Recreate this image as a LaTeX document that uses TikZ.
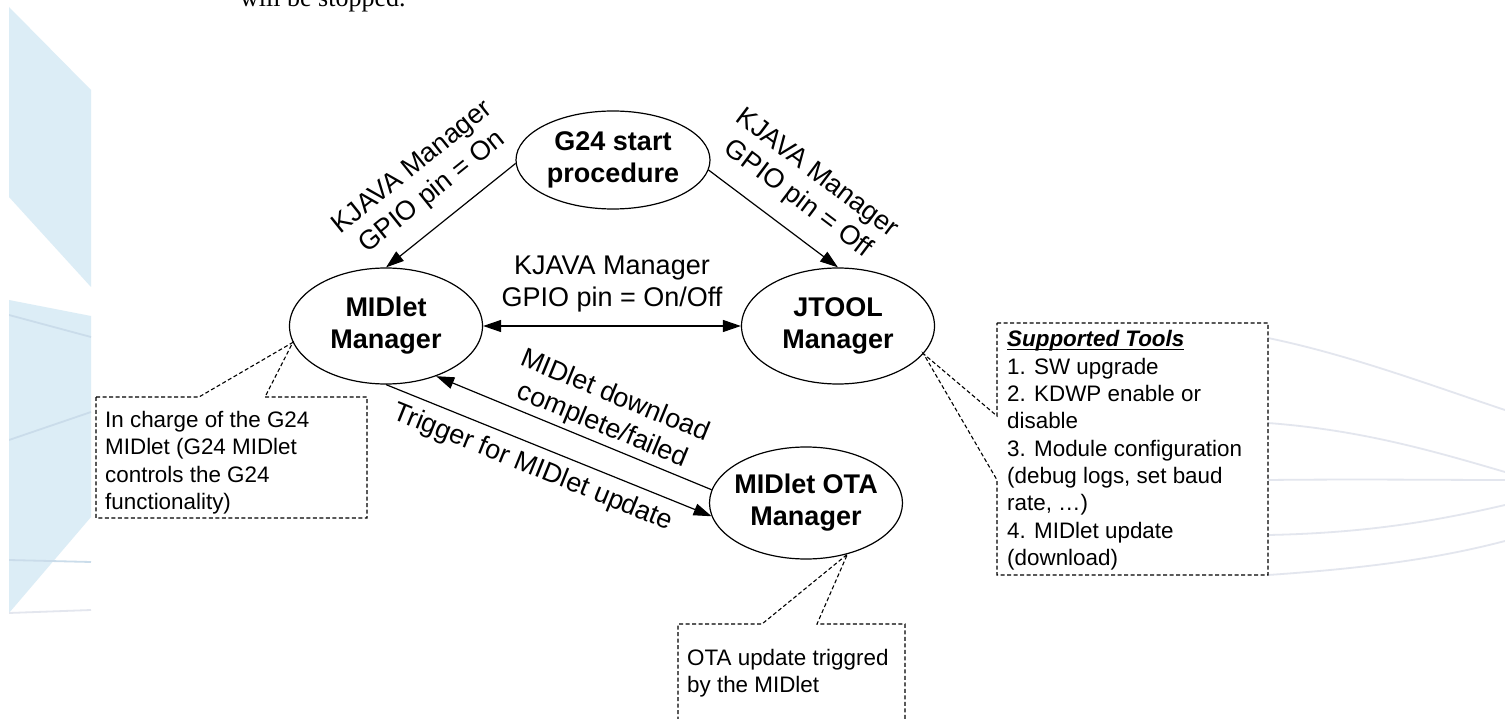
\documentclass[tikz,border=0pt]{standalone}
\usepackage{fontspec}
\setmainfont{Liberation Sans}
\newfontfamily\timesface{Liberation Serif}
\usetikzlibrary{arrows.meta,shapes.geometric}
\definecolor{bgblue}{HTML}{DCEDF6}
\definecolor{bgline}{HTML}{E3E6EE}
\definecolor{bglinedark}{HTML}{CADCEA}
\newcommand\myul[1]{\setbox0\hbox{#1}\rlap{\hbox to\wd0{\leaders\hrule height -1.6pt depth 3pt\hfill}}\box0}
\begin{document}
\begin{tikzpicture}[x=1pt,y=-1pt,
  state/.style={ellipse,draw,line width=1.2pt,inner sep=0pt},
  lbl/.style={align=center,inner sep=0pt,font=\fontsize{27}{32}\selectfont\bfseries},
  conn/.style={line width=1.2pt,-{Triangle[length=18pt,width=12pt]}},
  elabel/.style={sloped,align=center,inner sep=0pt,font=\fontsize{27}{32}\selectfont},
  callout/.style={draw,dash pattern=on 4pt off 2.5pt,line width=1.1pt},
  ctext/.style={align=left,inner sep=0pt,anchor=north west,font=\fontsize{22.4}{27.3}\selectfont},
  bgl/.style={line width=1.8pt,bgline},
  bgld/.style={line width=1.8pt,bglinedark}
]
\useasboundingbox (0,0) rectangle (1505,719);
\fill[white] (0,0) rectangle (1505,719);

% background slide pieces
\begin{scope}
\clip (9,0) rectangle (91,719);
\fill[bgblue] (9,7) -- (91,90) -- (91,287) -- (9,197) -- cycle;
\fill[bgblue] (91,316) -- (91,517) -- (9,613) -- (9,300) -- cycle;
\draw[bgld] (9,315) -- (91,337);
\draw[bgld] (9,440) -- (91,412);
\draw[bgld] (9,560) -- (91,562);
\draw[bgl] (9,613) -- (91,610);
\end{scope}
\begin{scope}
\clip (1268,0) rectangle (1505,719);
\draw[bgl] (1268,338) .. controls (1350,355) and (1430,385) .. (1505,410);
\draw[bgl] (1268,423) .. controls (1360,430) and (1430,450) .. (1505,472);
\draw[bgl] (1268,480) .. controls (1360,479) and (1440,480) .. (1505,480);
\draw[bgl] (1268,535) .. controls (1370,533) and (1440,520) .. (1505,505);
\draw[bgl] (1268,575) .. controls (1370,568) and (1440,558) .. (1505,541);
\end{scope}

\node[anchor=base west,inner sep=0pt,font=\timesface\fontsize{26}{30}\selectfont] (toptext) at (240,7) {will be stopped.};

% states
\node[state,minimum width=194pt,minimum height=98pt,label={[lbl]center:{G24 start\\procedure}}] (g24) at (613,160) {};
\node[state,minimum width=193pt,minimum height=116pt,label={[lbl]center:{MIDlet\\Manager}}] (mid) at (386,326) {};
\node[state,minimum width=193pt,minimum height=116pt,label={[lbl]center:{JTOOL\\Manager}}] (jt) at (838,326) {};
\node[state,minimum width=193pt,minimum height=112pt,label={[lbl]center:{MIDlet OTA\\Manager}}] (ota) at (806,503) {};

% connectors
\draw[conn] (g24.182) -- node[elabel,pos=0.5,above=16pt]{KJAVA Manager\\GPIO pin = On} (mid.north);
\draw[conn] (g24.-6) -- node[elabel,pos=0.55,above=17pt]{KJAVA Manager\\GPIO pin = Off} (jt.north);
\draw[line width=1.2pt,{Triangle[length=18pt,width=12pt]}-{Triangle[length=18pt,width=12pt]}] (mid.east) -- node[elabel,above=13pt]{KJAVA Manager\\GPIO pin = On/Off} (jt.west);
\draw[conn] (ota.172) -- node[elabel,pos=0.42,above=4pt]{MIDlet download\\complete/failed} (mid.-45);
\draw[conn] (mid.south) -- node[elabel,pos=0.476,below=9pt]{Trigger for MIDlet update} (ota.188);

% callouts
\draw[callout] (96,397) -- (199,397) -- (mid.190) -- (265,397) -- (367,397) -- (367,518) -- (96,518) -- cycle;
\node[ctext] (c1) at (105,411) {In charge of the G24\\MIDlet (G24 MIDlet\\controls the G24\\functionality)};

\draw[callout] (997,323) -- (1268,323) -- (1268,575) -- (997,575) -- (997,480) -- (jt.-18) -- (997,416) -- cycle;
\node[ctext] (c2) at (1007,330.5) {\textbf{\textit{\myul{Supported Tools}}}\\1. SW upgrade\\2. KDWP enable or\\disable\\3. Module configuration\\(debug logs, set baud\\rate, …)\\4. MIDlet update\\(download)};

\draw[callout] (678,740) -- (678,624) -- (762,624) -- (ota.-51) -- (817,624) -- (905,624) -- (905,740);
\node[ctext] (c3) at (687,649) {OTA update triggred\\by the MIDlet};
\end{tikzpicture}
\end{document}
